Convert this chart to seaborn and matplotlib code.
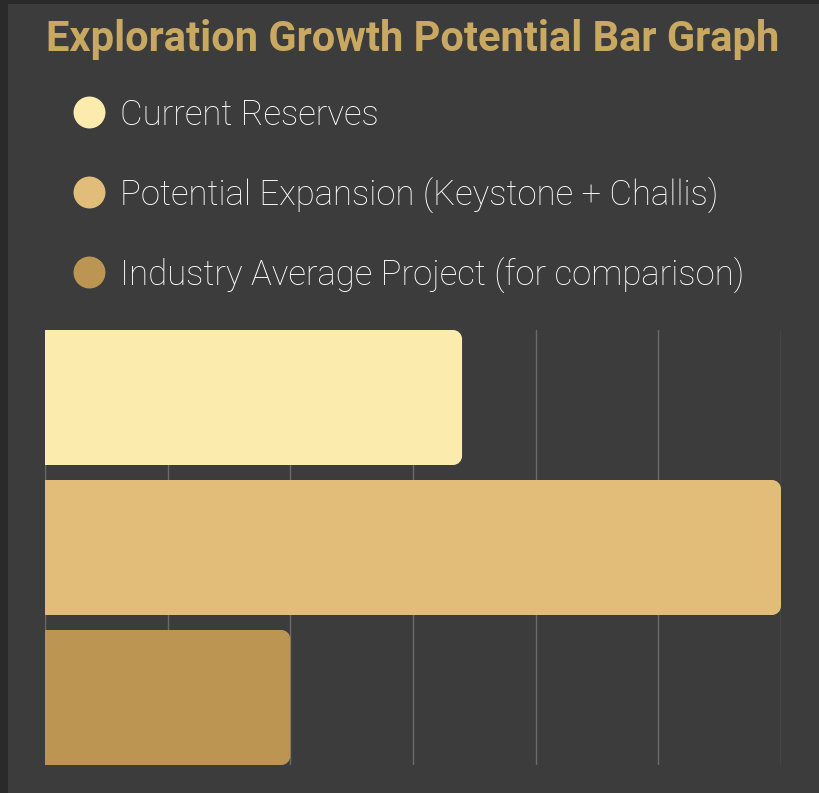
import matplotlib
matplotlib.use("Agg")
import matplotlib.pyplot as plt
import seaborn as sns
import pandas as pd
from matplotlib.path import Path
from matplotlib.patches import PathPatch, Rectangle
from matplotlib.lines import Line2D

categories = ["Current Reserves", "Potential Expansion (Keystone + Challis)",
              "Industry Average Project (for comparison)"]
values = [3.4, 6.0, 2.0]
colors = ["#fbecae", "#e2bd7a", "#bc9553"]
xticks = [0, 1, 2, 3, 4, 5, 6]

BG = "#3c3c3c"
W, H, DPI = 819, 793, 100

sns.set_theme(style="dark")
plt.rcParams["font.family"] = ["Roboto", "DejaVu Sans"]

fig = plt.figure(figsize=(W / DPI, H / DPI), dpi=DPI, facecolor=BG)
# dark frame strips (top and left)
fig.patches.append(Rectangle((0, 1 - 4 / H), 1, 4 / H, transform=fig.transFigure,
                             facecolor="#2a2a2a", edgecolor="none", zorder=-1))
fig.patches.append(Rectangle((0, 0), 8 / W, 1, transform=fig.transFigure,
                             facecolor="#2a2a2a", edgecolor="none", zorder=-1))

left, right, top, bottom = 45, 781, 330, 765
ax = fig.add_axes([left / W, 1 - bottom / H, (right - left) / W, (bottom - top) / H])
ax.set_facecolor(BG)

df = pd.DataFrame({"category": categories, "value": values})
sns.barplot(data=df, y="category", x="value", hue="category", palette=colors,
            width=0.9, ax=ax, legend=False, saturation=1, zorder=3)

ax.set_xlim(0, 6)
ax.set_ylim(2.45, -0.45)
ax.set_xticks(xticks)
ax.set_xticklabels([])
ax.set_yticks([])
ax.set_xlabel("")
ax.set_ylabel("")
ax.grid(axis="x", color="#6a6a6a", linewidth=1.0, zorder=0)
ax.grid(axis="y", visible=False)
for s in ax.spines.values():
    s.set_visible(False)
ax.tick_params(length=0)

# replace bars with right-rounded versions
px_per_x = (right - left) / 6.0
px_per_y = (bottom - top) / 2.9
r_px = 9
rx, ry = r_px / px_per_x, r_px / px_per_y
k = 0.5523
for p in list(ax.patches):
    x0, y0 = p.get_x(), p.get_y()
    w, h = p.get_width(), p.get_height()
    fc = p.get_facecolor()
    p.set_visible(False)
    x1 = x0 + w
    y1 = y0 + h
    verts = [
        (x0, y0), (x1 - rx, y0),
        (x1 - rx + k * rx, y0), (x1, y0 + ry - k * ry), (x1, y0 + ry),
        (x1, y1 - ry),
        (x1, y1 - ry + k * ry), (x1 - rx + k * rx, y1), (x1 - rx, y1),
        (x0, y1), (x0, y0)]
    codes = [Path.MOVETO, Path.LINETO,
             Path.CURVE4, Path.CURVE4, Path.CURVE4,
             Path.LINETO,
             Path.CURVE4, Path.CURVE4, Path.CURVE4,
             Path.LINETO, Path.CLOSEPOLY]
    ax.add_patch(PathPatch(Path(verts, codes), facecolor=fc, edgecolor="none",
                           zorder=3, clip_on=False))

# title
fig.text(413 / W, 1 - 40 / H, "Exploration Growth Potential Bar Graph",
         ha="center", va="center", fontsize=30, fontweight="bold", color="#c9a862")

# legend (manual layout)
for i, (lab, col) in enumerate(zip(categories, colors)):
    yc = 1 - (112 + 80 * i) / H
    fig.add_artist(Line2D([89 / W], [yc], marker="o", markersize=23,
                          markerfacecolor=col, markeredgecolor="none",
                          linestyle="none", transform=fig.transFigure))
    fig.text(120 / W, yc, lab, ha="left", va="center_baseline", fontsize=25,
             color="#ffffff", fontweight="light")

fig.savefig("out.png", dpi=DPI, facecolor=BG)
